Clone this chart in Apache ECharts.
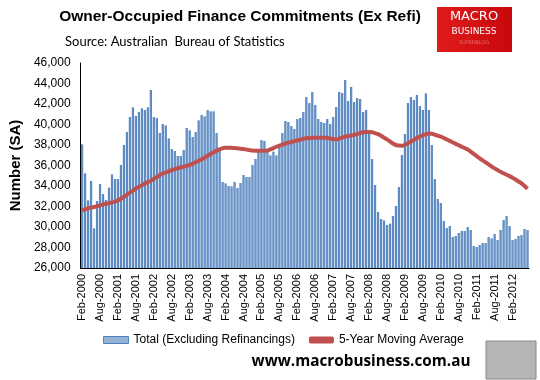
<!DOCTYPE html>
<html><head><meta charset="utf-8">
<script src="https://cdn.jsdelivr.net/npm/echarts@6/dist/echarts.min.js"></script>
<style>html,body{margin:0;padding:0;background:#fff}#c{width:540px;height:380px}</style>
</head><body><div id="c"></div>
<script>
var monthNames = ['Jan','Feb','Mar','Apr','May','Jun','Jul','Aug','Sep','Oct','Nov','Dec'];
var categories = [];
for (var k = 0; k < 150; k++) { var m = (1 + k) % 12, y = 2000 + Math.floor((1 + k) / 12); categories.push(monthNames[m] + '-' + y); }

var totalExRefi = [
38065,35236,32602,34488,29870,32537,34195,33219,32634,33837,35138,34683,
34683,36049,38000,39268,40731,41675,40829,41219,41577,41414,41675,43366,
40731,40634,39171,40049,39919,38650,37610,37415,36927,36927,37512,39658,
39431,38780,39268,40406,40926,40796,41414,41284,41284,39171,37500,34390,
34260,34000,33970,34390,33805,34293,35073,34878,34878,36049,36634,37349,
38488,38390,37349,36992,37349,36992,38065,39171,40341,40244,39854,39561,
40536,40634,41219,42683,42098,43171,41902,40536,40244,40146,40536,40049,
40731,41707,43171,43073,44341,42293,43658,42195,42585,42488,41219,41414,
39138,36634,34098,31463,30780,30650,30195,30325,31073,32049,33902,37024,
39073,42098,42683,42390,42878,41805,41414,43041,41414,38000,34683,32732,
32341,30585,29902,30098,29024,29122,29415,29610,29610,30000,29707,28146,
28049,28244,28439,28439,29024,28894,29317,28732,29707,30683,31073,30098,
28732,28829,29122,29220,29805,29707
];
var movingAvg5y = [
31600,31720,31820,31900,31950,32020,32100,32200,32260,32330,32400,32470,
32600,32760,32950,33150,33350,33550,33750,33920,34080,34230,34380,34520,
34700,34880,35060,35220,35330,35440,35550,35650,35730,35810,35890,35970,
36050,36180,36320,36460,36600,36770,36950,37130,37300,37450,37580,37680,
37740,37740,37720,37700,37670,37640,37600,37550,37500,37460,37440,37430,
37430,37440,37470,37580,37700,37830,37930,38030,38130,38230,38300,38380,
38450,38530,38600,38650,38680,38700,38710,38715,38710,38700,38680,38640,
38580,38550,38620,38720,38820,38880,38930,38980,39070,39160,39240,39270,
39280,39250,39150,39060,38900,38720,38550,38350,38150,38000,37950,37935,
38020,38180,38330,38500,38680,38820,38950,39060,39130,39100,39000,38900,
38810,38680,38540,38400,38260,38110,37970,37830,37700,37570,37360,37140,
36920,36700,36500,36300,36100,35900,35720,35550,35380,35240,35100,34960,
34810,34630,34440,34260,34000,33740
];
var seriesNames = ['Total (Excluding Refinancings)', '5-Year Moving Average'];

var chart = echarts.init(document.getElementById('c'), null, {renderer:'canvas'});
var F = '"Liberation Sans", Arial, sans-serif';
chart.setOption({
  animation: false,
  backgroundColor: '#fff',
  title: [
    {text: 'Owner-Occupied Finance Commitments (Ex Refi)', left: 240, top: 9, textAlign: 'center', padding: 0,
     textStyle: {fontFamily: F, fontSize: 15.5, fontWeight: 'bold', color: '#000'}},
    {text: 'Source: Australian  Bureau of Statistics', left: 65, top: 35, padding: 0,
     textStyle: {fontFamily: 'Lato, "Open Sans", sans-serif', fontSize: 13, fontWeight: 'normal', color: '#000'}}
  ],
  grid: {left: 68, right: 11, top: 63, bottom: 112},
  legend: {
    top: 334, left: 103, padding: 0, itemGap: 14, itemWidth: 25, itemHeight: 7,
    textStyle: {fontFamily: F, fontSize: 12, color: '#000'},
    data: [
      {name: seriesNames[0], icon: 'rect', itemStyle: {color: '#95B3D7', borderColor: '#4F81BD', borderWidth: 1}},
      {name: seriesNames[1], icon: 'roundRect', itemStyle: {color: '#C0504D'}}
    ]
  },
  xAxis: {
    type: 'category', data: categories,
    axisLine: {lineStyle: {color: '#000', width: 1}},
    axisTick: {show: false},
    axisLabel: {rotate: 90, interval: 5, fontFamily: F, fontSize: 11, color: '#000', margin: 6}
  },
  yAxis: {
    type: 'value', min: 26000, max: 46000, interval: 2000,
    name: 'Number (SA)', nameLocation: 'middle', nameGap: 50, nameRotate: 90,
    nameTextStyle: {fontFamily: F, fontSize: 15, fontWeight: 'bold', color: '#000'},
    axisLine: {show: true, lineStyle: {color: '#000', width: 1}},
    axisTick: {show: false},
    splitLine: {show: false},
    axisLabel: {fontFamily: F, fontSize: 12, color: '#000', margin: 10,
      formatter: function(v){ return v.toLocaleString('en-US'); }}
  },
  series: [
    {name: seriesNames[0], type: 'bar', data: totalExRefi, barCategoryGap: '25%',
     itemStyle: {color: {type:'linear', x:0, y:0, x2:1, y2:0, colorStops:[{offset:0,color:'#4A7EBB'},{offset:0.5,color:'#6D95C8'},{offset:1,color:'#4A7EBB'}]}}},
    {name: seriesNames[1], type: 'line', data: movingAvg5y, symbol: 'none', smooth: true,
     lineStyle: {color: '#C0504D', width: 4}, itemStyle: {color: '#C0504D'}, z: 5}
  ],
  graphic: [
    {type: 'rect', shape: {x: 437, y: 7, width: 75, height: 45},
     style: {fill: {type:'linear', x:0, y:0, x2:1, y2:0, colorStops:[{offset:0,color:'#E01B1B'},{offset:1,color:'#C8080C'}]}}},
    {type: 'text', x: 474, y: 17, style: {text: 'MACRO', fill: '#fff', font: '13px "DejaVu Sans", sans-serif', textAlign: 'center', textVerticalAlign: 'middle'}},
    {type: 'text', x: 474, y: 32, style: {text: 'BUSINESS', fill: '#fff', font: '9px "DejaVu Sans", sans-serif', textAlign: 'center', textVerticalAlign: 'middle'}},
    {type: 'text', x: 474, y: 43, style: {text: 'SUPERBLOG', fill: '#E86A6A', font: '5px "DejaVu Sans", sans-serif', textAlign: 'center', textVerticalAlign: 'middle'}},
    {type: 'text', x: 361, y: 362, style: {text: 'www.macrobusiness.com.au', fill: '#000', font: 'bold 15.3px "Open Sans", "DejaVu Sans", sans-serif', textAlign: 'center', textVerticalAlign: 'middle'}},
    {type: 'rect', shape: {x: 486, y: 341, width: 50, height: 38}, style: {fill: '#b5b5b5', stroke: '#888', lineWidth: 1}}
  ]
});
</script></body></html>
